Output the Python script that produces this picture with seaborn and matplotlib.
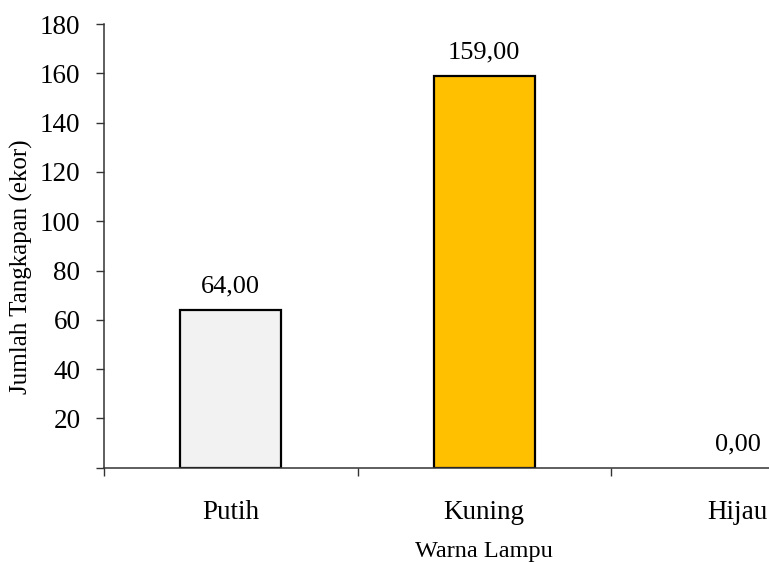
import matplotlib
matplotlib.use("Agg")
import matplotlib.pyplot as plt
import seaborn as sns
import pandas as pd
from matplotlib.ticker import FixedLocator, FixedFormatter

categories = ["Putih", "Kuning", "Hijau"]
values = [64.0, 159.0, 0.0]
colors = ["#F2F2F2", "#FFC000", "#00B050"]
value_labels = ["64,00", "159,00", "0,00"]
y_ticks = [0, 20, 40, 60, 80, 100, 120, 140, 160, 180]
y_tick_labels = ["", "20", "40", "60", "80", "100", "120", "140", "160", "180"]
x_label = "Warna Lampu"
y_label = "Jumlah Tangkapan (ekor)"

sns.set_theme(style="white")
plt.rcParams["font.family"] = ["Liberation Serif", "DejaVu Serif"]

df = pd.DataFrame({"cat": categories, "val": values})

fig = plt.figure(figsize=(7.69, 5.62), dpi=100)
ax = fig.add_axes([104 / 769, 1 - 467.7 / 562, 760.5 / 769, (467.7 - 24) / 562])

sns.barplot(data=df, x="cat", y="val", hue="cat", palette=colors, order=categories,
            hue_order=categories, width=0.4, edgecolor="black", linewidth=1.6,
            legend=False, ax=ax, saturation=1)

for p, v in zip(ax.patches, values):
    if v == 0:
        p.set_linewidth(0)

for cont, lab in zip(ax.containers, value_labels):
    ax.bar_label(cont, labels=[lab], padding=9, fontsize=19, color="black")

ax.set_xlim(-0.5, 2.5)
ax.set_ylim(0, 180)
ax.yaxis.set_major_locator(FixedLocator(y_ticks))
ax.yaxis.set_major_formatter(FixedFormatter(y_tick_labels))

ax.xaxis.set_major_locator(FixedLocator([-0.5, 0.5, 1.5]))
ax.xaxis.set_major_formatter(FixedFormatter(["", "", ""]))
ax.xaxis.set_minor_locator(FixedLocator([0, 1, 2]))
ax.xaxis.set_minor_formatter(FixedFormatter(categories))

ax.tick_params(axis="x", which="major", direction="out", length=6, width=1, color="#333333", bottom=True)
ax.tick_params(axis="x", which="minor", length=0, pad=23, labelsize=19.5, labelcolor="black", bottom=True)
ax.tick_params(axis="y", which="major", direction="out", length=6, width=1, color="#333333",
               pad=11, labelsize=19.5, labelcolor="black", left=True)

for s in ["top", "right"]:
    ax.spines[s].set_visible(False)
for s in ["left", "bottom"]:
    ax.spines[s].set_color("#333333")
    ax.spines[s].set_linewidth(1.1)

ax.set_xlabel(x_label, fontsize=17.5, color="black", labelpad=12)
ax.set_ylabel(y_label, fontsize=18, color="black")
ax.yaxis.set_label_coords(-0.0934, 0.452)

fig.savefig("out.png", dpi=100)
